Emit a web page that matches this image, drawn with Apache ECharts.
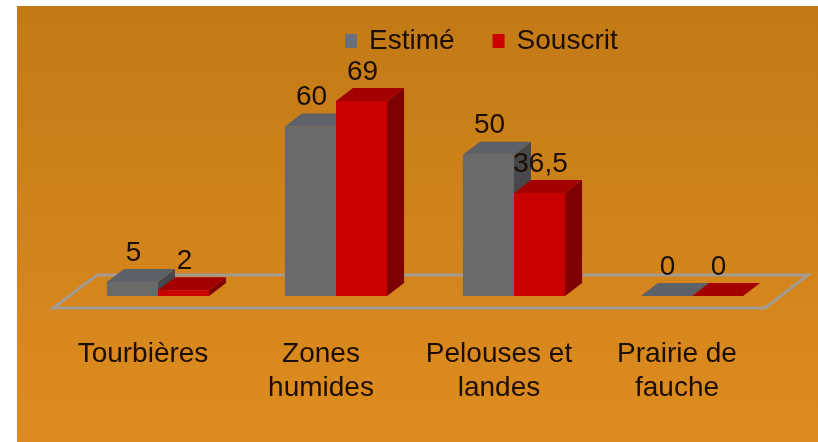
<!DOCTYPE html>
<html>
<head>
<meta charset="utf-8">
<script src="https://cdn.jsdelivr.net/npm/echarts@6/dist/echarts.min.js"></script>
<style>
  html, body { margin: 0; padding: 0; background: #ffffff; }
  #chart { position: absolute; left: 17px; top: 6px; width: 801px; height: 436px; }
</style>
</head>
<body>
<div id="chart"></div>
<script>
// Habitat surfaces: estimated vs. subscribed
const categories = ['Tourbières', 'Zones\nhumides', 'Pelouses et\nlandes', 'Prairie de\nfauche'];
const estime = [5, 60, 50, 0];
const souscrit = [2, 69, 36.5, 0];
const valueLabelsEstime = ['5', '60', '50', '0'];
const valueLabelsSouscrit = ['2', '69', '36,5', '0'];

const FONT = '"Liberation Sans", Arial, sans-serif';
const TEXT_COLOR = '#1c0e02';
const DEPTH_X = 17, DEPTH_Y = -13;

const palettes = {
  gray: { front: '#6a6a6b', top: '#5d6168', side: '#47484b' },
  red:  { front: '#c90000', top: '#a30000', side: '#7f0000' }
};

// One pseudo-3D box: front face, top face, right side face, value text
function boxRenderer(side, pal, labels) {
  return function (params, api) {
    const ci = api.value(0);
    const v = api.value(1);
    const top = api.coord([ci, v]);
    const base = api.coord([ci, 0]);
    const band = api.size([1, 0])[0];
    const w = band * 0.287;
    const x0 = side === 0 ? top[0] - w : top[0];
    const x1 = x0 + w;
    const yT = top[1], yB = base[1];
    return {
      type: 'group',
      children: [
        { type: 'polygon', shape: { points: [[x1, yT], [x1 + DEPTH_X, yT + DEPTH_Y], [x1 + DEPTH_X, yB + DEPTH_Y], [x1, yB]] },
          style: { fill: pal.side } },
        { type: 'polygon', shape: { points: [[x0, yT], [x1, yT], [x1 + DEPTH_X, yT + DEPTH_Y], [x0 + DEPTH_X, yT + DEPTH_Y]] },
          style: { fill: pal.top } },
        { type: 'rect', shape: { x: x0, y: yT, width: w, height: yB - yT },
          style: { fill: pal.front } },
        { type: 'text', z2: 100,
          style: { text: labels[params.dataIndex], x: (x0 + x1) / 2 + 1, y: yT - 29,
                   align: 'center', verticalAlign: 'middle',
                   font: '28px ' + FONT, fill: TEXT_COLOR } }
      ]
    };
  };
}

// Floor outline drawn from the plot rectangle
function floorRenderer(params, api) {
  const cs = params.coordSys;
  const yBase = api.coord([0, 0])[1];
  const xl = cs.x, xr = cs.x + cs.width;
  return {
    type: 'polygon',
    shape: { points: [[xl - 16, yBase + 12], [xr - 16, yBase + 12], [xr + 27, yBase - 21], [xl + 28, yBase - 21]] },
    style: { fill: 'none', stroke: '#a29b94', lineWidth: 3 }
  };
}

const chart = echarts.init(document.getElementById('chart'), null, { renderer: 'canvas' });
chart.setOption({
  animation: false,
  backgroundColor: {
    type: 'linear', x: 0, y: 0, x2: 0, y2: 1,
    colorStops: [{ offset: 0, color: '#c27a17' }, { offset: 1, color: '#de8c1f' }]
  },
  legend: {
    data: ['Estimé', 'Souscrit'],
    left: 323, top: 16,
    icon: 'rect', itemWidth: 12, itemHeight: 14, itemGap: 38,
    textStyle: { fontFamily: FONT, fontSize: 28, color: TEXT_COLOR, padding: [0, 0, 0, 7] }
  },
  grid: { left: 52, right: 37, top: 64, bottom: 146 },
  xAxis: {
    type: 'category',
    data: categories,
    axisLine: { show: false },
    axisTick: { show: false },
    axisLabel: {
      interval: 0, margin: 41, fontFamily: FONT, fontSize: 28, lineHeight: 34,
      color: TEXT_COLOR, padding: [0, 30, 0, 0]
    }
  },
  yAxis: {
    type: 'value', min: 0, max: 80,
    show: false, splitLine: { show: false }
  },
  series: [
    {
      type: 'custom', name: 'floor', silent: true, z: 1,
      renderItem: floorRenderer,
      data: [[0, 0]]
    },
    {
      type: 'custom', name: 'Estimé', z: 2,
      itemStyle: { color: '#68707c' },
      renderItem: boxRenderer(0, palettes.gray, valueLabelsEstime),
      encode: { x: 0, y: 1 },
      data: estime.map((v, i) => [i, v])
    },
    {
      type: 'custom', name: 'Souscrit', z: 2,
      itemStyle: { color: '#cc0000' },
      renderItem: boxRenderer(1, palettes.red, valueLabelsSouscrit),
      encode: { x: 0, y: 1 },
      data: souscrit.map((v, i) => [i, v])
    }
  ]
});
</script>
</body>
</html>
